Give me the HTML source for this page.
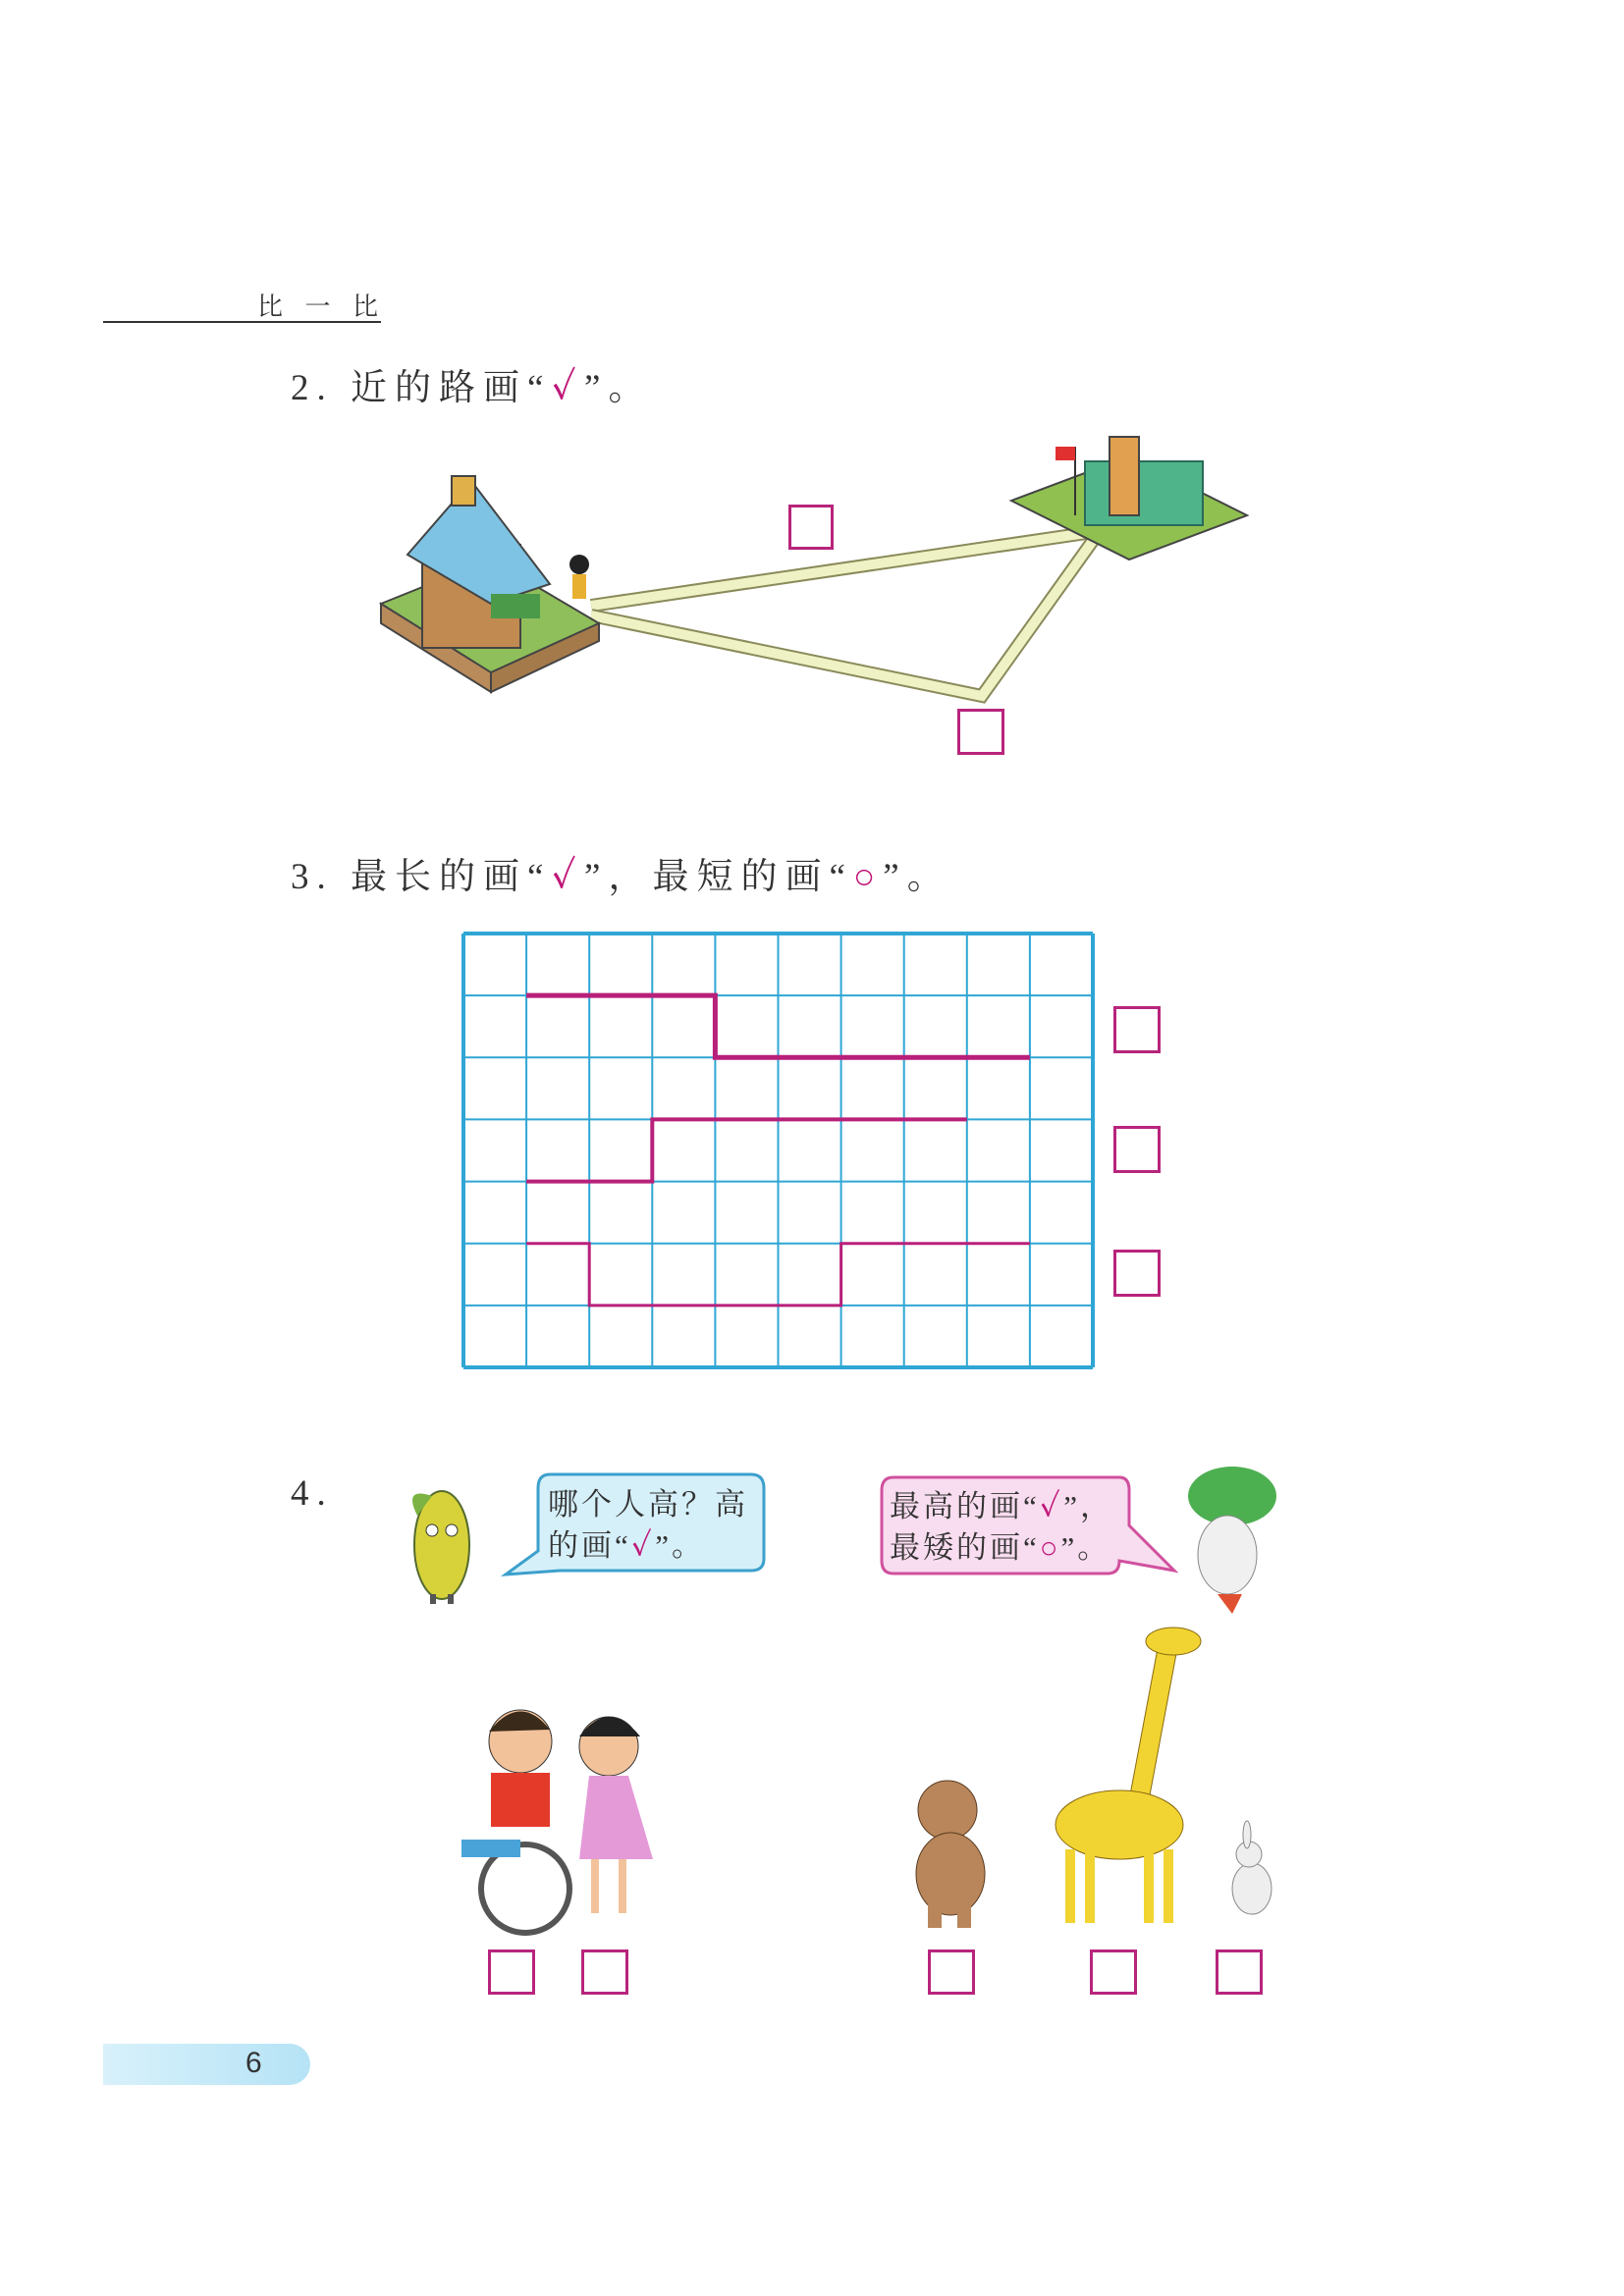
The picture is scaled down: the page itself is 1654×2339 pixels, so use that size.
<!DOCTYPE html>
<html><head><meta charset="utf-8">
<style>
html,body{margin:0;padding:0;background:#fff;}
body{width:1654px;height:2339px;position:relative;overflow:hidden;font-family:"Liberation Serif","Noto Serif CJK SC","Noto Sans CJK SC",serif;color:#333;}
.abs{position:absolute;}
.q{font-size:37px;letter-spacing:8px;white-space:nowrap;}
.box{position:absolute;border:3px solid #b8247c;box-sizing:border-box;}
.pk{color:#c0187a;font-weight:bold;}
</style></head>
<body>
<div class="abs" style="left:262px;top:292px;font-size:26px;letter-spacing:8px;">比 一 比</div>
<div class="abs" style="left:105px;top:327px;width:283px;height:2px;background:#333;"></div>

<div class="abs q" style="left:296px;top:364px;">2. 近的路画“<span class="pk">✓</span>”。</div>

<svg class="abs" style="left:0;top:0" width="1654" height="800">
 <g fill="none" stroke-linejoin="miter">
  <polyline points="602,617 1120,541" stroke="#8a8a5a" stroke-width="14"/>
  <polyline points="602,617 1120,541" stroke="#eef2c4" stroke-width="10"/>
  <polyline points="602,627 1000,709 1120,541" stroke="#8a8a5a" stroke-width="14"/>
  <polyline points="602,627 1000,709 1120,541" stroke="#eef2c4" stroke-width="10"/>
 </g>
 <g>
  <polygon points="388,615 500,570 610,635 500,700" fill="#8fbf5a" stroke="#444" stroke-width="2"/>
  <polygon points="388,615 500,685 500,705 388,635" fill="#b98a5a" stroke="#444" stroke-width="2"/>
  <polygon points="500,685 610,635 610,653 500,705" fill="#a57a4a" stroke="#444" stroke-width="2"/>
  <rect x="430" y="555" width="100" height="105" fill="#c08a50" stroke="#444" stroke-width="2"/>
  <polygon points="415,565 480,490 560,595 500,615" fill="#7ec3e3" stroke="#444" stroke-width="2"/>
  <rect x="460" y="485" width="24" height="30" fill="#e0b04a" stroke="#444" stroke-width="2"/>
  <rect x="500" y="605" width="50" height="25" fill="#4a9a4a"/>
  <circle cx="590" cy="575" r="10" fill="#222"/>
  <rect x="583" y="585" width="14" height="25" fill="#e8b030"/>
 </g>
 <g>
  <polygon points="1030,510 1150,465 1270,525 1150,570" fill="#8fc050" stroke="#444" stroke-width="2"/>
  <rect x="1105" y="470" width="120" height="65" fill="#4fb48a" stroke="#2a6a5a" stroke-width="2"/>
  <rect x="1130" y="445" width="30" height="80" fill="#e0a050" stroke="#444" stroke-width="2"/>
  <line x1="1095" y1="455" x2="1095" y2="525" stroke="#333" stroke-width="2"/>
  <rect x="1075" y="455" width="20" height="14" fill="#e03030"/>
 </g>
</svg>
<div class="box" style="left:803px;top:514px;width:46px;height:46px;"></div>
<div class="box" style="left:975px;top:722px;width:48px;height:47px;"></div>

<div class="abs q" style="left:296px;top:862px;">3. 最长的画“<span class="pk">✓</span>”，最短的画“<span class="pk">○</span>”。</div>

<svg class="abs" id="grid" style="left:0;top:0" width="1654" height="1450"></svg>
<script>
const gridCols = 10;
const gridRows = 7;
const line1 = [[1,1],[4,1],[4,2],[9,2]];
const line2 = [[1,4],[3,4],[3,3],[8,3]];
const line3 = [[1,5],[2,5],[2,6],[6,6],[6,5],[9,5]];
const lineWidths = [5,4,3];
(function(){
 const svg=document.getElementById('grid');
 const ns='http://www.w3.org/2000/svg';
 const x0=472,x1=1113,y0=951,y1=1393;
 const sx=c=>x0+(x1-x0)*c/gridCols, sy=r=>y0+(y1-y0)*r/gridRows;
 for(let c=0;c<=gridCols;c++){const l=document.createElementNS(ns,'line');
  l.setAttribute('x1',sx(c));l.setAttribute('x2',sx(c));l.setAttribute('y1',y0);l.setAttribute('y2',y1);
  l.setAttribute('stroke','#2fa6d4');l.setAttribute('stroke-width',(c==0||c==gridCols)?4:2);
  
  
  svg.appendChild(l);}
 for(let r=0;r<=gridRows;r++){const l=document.createElementNS(ns,'line');
  l.setAttribute('y1',sy(r));l.setAttribute('y2',sy(r));l.setAttribute('x1',x0);l.setAttribute('x2',x1);
  l.setAttribute('stroke','#2fa6d4');l.setAttribute('stroke-width',(r==0||r==gridRows)?4:2);
  
  
  svg.appendChild(l);}
 [line1,line2,line3].forEach((pts,i)=>{const p=document.createElementNS(ns,'polyline');
  p.setAttribute('points',pts.map(q=>sx(q[0])+','+sy(q[1])).join(' '));
  p.setAttribute('fill','none');p.setAttribute('stroke','#b8207a');p.setAttribute('stroke-width',lineWidths[i]);
  
  
  svg.appendChild(p);});
})();
</script>
<div class="box" style="left:1134px;top:1025px;width:48px;height:48px;"></div>
<div class="box" style="left:1134px;top:1147px;width:48px;height:48px;"></div>
<div class="box" style="left:1134px;top:1273px;width:48px;height:48px;"></div>

<div class="abs q" style="left:296px;top:1500px;">4.</div>

<svg class="abs" style="left:0;top:1444px" width="1654" height="560">
 <g>
  <ellipse cx="450" cy="130" rx="28" ry="55" fill="#d7d23a" stroke="#556b2f" stroke-width="2"/>
  <path d="M425 100 Q410 70 440 80" fill="#7cb342"/>
  <circle cx="440" cy="115" r="6" fill="#fff" stroke="#333"/><circle cx="460" cy="115" r="6" fill="#fff" stroke="#333"/>
  <rect x="438" y="180" width="6" height="10" fill="#555"/><rect x="456" y="180" width="6" height="10" fill="#555"/>
 </g>
 <g>
  <path d="M560 58 H765 Q778 58 778 72 V144 Q778 156 765 156 H570 L515 160 L548 136 V72 Q548 58 560 58Z" fill="#d6f0fa" stroke="#3ca0cc" stroke-width="3"/>
 </g>
 <g>
  <path d="M910 61 H1140 Q1150 61 1150 74 V110 L1196 156 L1140 146 Q1140 159 1128 159 H910 Q898 159 898 146 V74 Q898 61 910 61Z" fill="#f8dcef" stroke="#d0509e" stroke-width="3"/>
 </g>
 <g>
  <ellipse cx="1255" cy="80" rx="45" ry="30" fill="#4caf50"/>
  <ellipse cx="1250" cy="140" rx="30" ry="40" fill="#f0f0f0" stroke="#888"/>
  <path d="M1240 180 L1255 200 L1265 180Z" fill="#e05030"/>
 </g>
 <g>
  <circle cx="530" cy="330" r="32" fill="#f2c29a" stroke="#333"/>
  <path d="M498 320 Q530 280 560 318" fill="#3a2a1a"/>
  <rect x="500" y="362" width="60" height="55" fill="#e43a2a"/>
  <circle cx="535" cy="480" r="45" fill="none" stroke="#555" stroke-width="6"/>
  <rect x="470" y="430" width="60" height="18" fill="#4aa3d8"/>
  <circle cx="620" cy="335" r="30" fill="#f2c29a" stroke="#333"/>
  <path d="M590 325 Q620 285 652 325" fill="#222"/>
  <path d="M600 365 L640 365 L665 450 L590 450Z" fill="#e59ad8"/>
  <rect x="602" y="450" width="8" height="55" fill="#f2c29a"/><rect x="630" y="450" width="8" height="55" fill="#f2c29a"/>
 </g>
 <g>
  <circle cx="965" cy="400" r="30" fill="#b8865a" stroke="#5a3a20"/>
  <ellipse cx="968" cy="465" rx="35" ry="42" fill="#b8865a" stroke="#5a3a20"/>
  <rect x="945" y="495" width="14" height="25" fill="#b8865a"/><rect x="975" y="495" width="14" height="25" fill="#b8865a"/>
 </g>
 <g>
  <path d="M1180 230 L1200 230 L1170 390 L1150 390Z" fill="#f1d432" stroke="#8a6a10"/>
  <ellipse cx="1195" cy="228" rx="28" ry="14" fill="#f1d432" stroke="#8a6a10"/>
  <ellipse cx="1140" cy="415" rx="65" ry="35" fill="#f1d432" stroke="#8a6a10"/>
  <rect x="1085" y="440" width="10" height="75" fill="#f1d432"/><rect x="1105" y="440" width="10" height="75" fill="#f1d432"/>
  <rect x="1165" y="440" width="10" height="75" fill="#f1d432"/><rect x="1185" y="440" width="10" height="75" fill="#f1d432"/>
 </g>
 <g>
  <ellipse cx="1275" cy="480" rx="20" ry="26" fill="#eee" stroke="#888"/>
  <circle cx="1272" cy="445" r="13" fill="#eee" stroke="#888"/>
  <ellipse cx="1270" cy="425" rx="4" ry="14" fill="#eee" stroke="#888"/>
 </g>
</svg>
<div class="abs" style="left:558px;top:1512px;font-size:31px;line-height:42px;letter-spacing:3px;">哪个人高？高<br>的画“<span class="pk">✓</span>”。</div>
<div class="abs" style="left:906px;top:1514px;font-size:31px;line-height:42px;letter-spacing:3px;">最高的画“<span class="pk">✓</span>”，<br>最矮的画“<span class="pk">○</span>”。</div>

<div class="box" style="left:497px;top:1986px;width:48px;height:46px;"></div>
<div class="box" style="left:592px;top:1986px;width:48px;height:46px;"></div>
<div class="box" style="left:945px;top:1986px;width:48px;height:46px;"></div>
<div class="box" style="left:1110px;top:1986px;width:48px;height:46px;"></div>
<div class="box" style="left:1238px;top:1986px;width:48px;height:46px;"></div>

<div class="abs" style="left:105px;top:2082px;width:211px;height:42px;border-radius:0 21px 21px 0;background:linear-gradient(90deg,#d8f1fb,#b5e3f6);"></div>
<div class="abs" style="left:250px;top:2085px;font-family:'Liberation Sans',sans-serif;font-size:30px;color:#333;">6</div>
</body></html>
